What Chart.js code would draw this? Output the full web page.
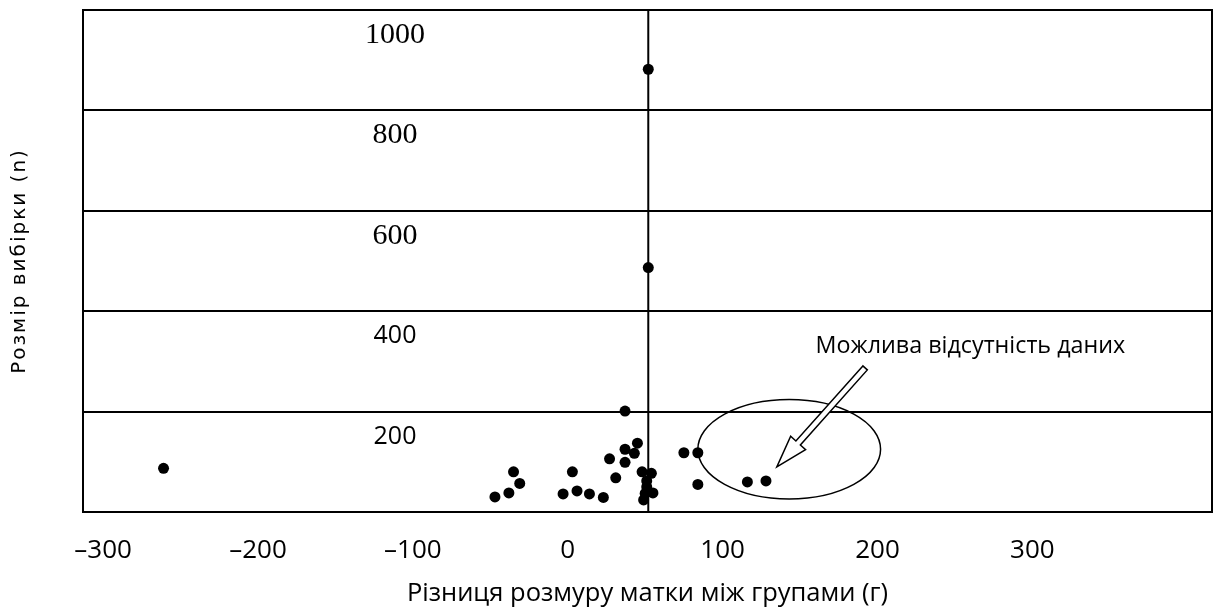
<!DOCTYPE html>
<html>
<head>
<meta charset="utf-8">
<script src="https://cdn.jsdelivr.net/npm/chart.js@4.4.1/dist/chart.umd.min.js"></script>
<style>
    html, body { margin: 0; padding: 0; background: #ffffff; }
    #chart { display: block; }
</style>
</head>
<body>
<canvas id="chart" width="1219" height="609"></canvas>
<script>
// Funnel plot: difference in uterine size vs sample size

// Study points
const sizeDiff = [-261, 52, 52, 37, 45, 37, 43, 27, 37, 75, 84, -35, 3, 48, 54, 31, -31, 84, 116, 128,
    51, 51, -38, -47, -3, 6, 14, 23, 50, 55, 49];
const sampleN = [87, 882, 487, 201, 137, 125, 117, 106, 99, 118, 118, 80, 80, 80, 77, 68, 57, 55, 60, 62,
    62, 50, 38, 30, 36, 42, 36, 29, 37, 38, 24];

// Pooled estimate (vertical line)
const pooledDiff = 52;

// Axis ticks and titles
const xTicks = [-300, -200, -100, 0, 100, 200, 300];
const yTicks = [200, 400, 600, 800, 1000];
const xTitle = 'Різниця розмуру матки між групами (г)';
const yTitle = 'Розмір вибірки (n)';

// Annotation (in data units)
const noteText = 'Можлива відсутність даних';
const noteTextAt = [260, 329];
const noteEllipse = [143, 125, 59, 99];   // cx, cy, rx, ry
const noteArrow = [192, 287, 135, 90];    // from x, y -> to x, y

const points = sizeDiff.map((d, i) => ({ x: d, y: sampleN[i] }));

// Frame round the plot area
const framePlugin = {
    id: 'frame',
    afterDraw(chart) {
        const { ctx, chartArea: a } = chart;
        ctx.save();
        ctx.strokeStyle = '#000';
        ctx.lineWidth = 2;
        ctx.strokeRect(a.left, a.top, a.right - a.left, a.bottom - a.top);
        ctx.restore();
    }
};

// Y axis title, letter-spaced like the original
const yTitlePlugin = {
    id: 'yTitle',
    afterDraw(chart) {
        const { ctx, chartArea: a } = chart;
        ctx.save();
        ctx.translate(20, (a.top + a.bottom) / 2);
        ctx.rotate(-Math.PI / 2);
        ctx.font = "20px 'DejaVu Sans', sans-serif";
        if ('letterSpacing' in ctx) ctx.letterSpacing = '2px';
        ctx.fillStyle = '#000';
        ctx.textAlign = 'center';
        ctx.textBaseline = 'middle';
        ctx.fillText(yTitle, 0, 0);
        ctx.restore();
    }
};

// Ellipse, arrow and note text
const notePlugin = {
    id: 'note',
    afterDatasetsDraw(chart) {
        const { ctx, scales: { x, y } } = chart;
        ctx.save();

        // ellipse
        const cx = x.getPixelForValue(noteEllipse[0]);
        const cy = y.getPixelForValue(noteEllipse[1]);
        const rx = x.getPixelForValue(noteEllipse[0] + noteEllipse[2]) - cx;
        const ry = cy - y.getPixelForValue(noteEllipse[1] + noteEllipse[3]);
        ctx.beginPath();
        ctx.ellipse(cx, cy, rx, ry, 0, 0, Math.PI * 2);
        ctx.strokeStyle = '#000';
        ctx.lineWidth = 1.5;
        ctx.stroke();

        // hollow block arrow
        const tx = x.getPixelForValue(noteArrow[0]), ty = y.getPixelForValue(noteArrow[1]);
        const px = x.getPixelForValue(noteArrow[2]), py = y.getPixelForValue(noteArrow[3]);
        const len = Math.hypot(px - tx, py - ty);
        const dx = (px - tx) / len, dy = (py - ty) / len;
        const nx = -dy, ny = dx;
        const w = 3, h = 10, L = 32;
        const bx = px - dx * L, by = py - dy * L;
        ctx.beginPath();
        ctx.moveTo(tx + nx * w, ty + ny * w);
        ctx.lineTo(bx + nx * w, by + ny * w);
        ctx.lineTo(bx + nx * h, by + ny * h);
        ctx.lineTo(px, py);
        ctx.lineTo(bx - nx * h, by - ny * h);
        ctx.lineTo(bx - nx * w, by - ny * w);
        ctx.lineTo(tx - nx * w, ty - ny * w);
        ctx.closePath();
        ctx.fillStyle = '#fff';
        ctx.fill();
        ctx.stroke();

        // text
        ctx.fillStyle = '#000';
        ctx.font = "23.3px 'Open Sans', sans-serif";
        ctx.textAlign = 'center';
        ctx.textBaseline = 'middle';
        ctx.fillText(noteText, x.getPixelForValue(noteTextAt[0]), y.getPixelForValue(noteTextAt[1]));
        ctx.restore();
    }
};

new Chart(document.getElementById('chart'), {
    type: 'scatter',
    data: {
        datasets: [{
            type: 'line',
            data: [{ x: pooledDiff, y: 0 }, { x: pooledDiff, y: 1000 }],
            borderColor: '#000',
            borderWidth: 2,
            pointRadius: 0
        }, {
            data: points,
            backgroundColor: '#000',
            borderColor: '#000',
            borderWidth: 0,
            pointRadius: 5.5
        }]
    },
    options: {
        responsive: false,
        devicePixelRatio: 1,
        animation: false,
        layout: { padding: { top: 10, right: 7, left: 0, bottom: 0 } },
        plugins: {
            legend: { display: false },
            tooltip: { enabled: false }
        },
        scales: {
            x: {
                type: 'linear',
                min: -313,
                max: 416,
                afterBuildTicks: (axis) => { axis.ticks = xTicks.map(v => ({ value: v })); },
                afterFit: (axis) => {
                    axis.height = 97;
                    axis.paddingLeft = 0;
                    axis.paddingRight = 0;
                },
                grid: { display: false, drawTicks: false },
                border: { display: true, color: '#000', width: 2 },
                ticks: {
                    color: '#000',
                    padding: 23,
                    maxRotation: 0,
                    font: { family: "'Open Sans', sans-serif", size: 26 },
                    callback: (v) => v < 0 ? '\u2013' + Math.abs(v) : String(v)
                },
                title: {
                    display: true,
                    text: xTitle,
                    color: '#000',
                    font: { family: "'Open Sans', sans-serif", size: 25.5 },
                    padding: { top: 0, bottom: 0 }
                }
            },
            y: {
                type: 'linear',
                min: 0,
                max: 1000,
                afterBuildTicks: (axis) => { axis.ticks = yTicks.map(v => ({ value: v })); },
                afterFit: (axis) => {
                    axis.width = 83;
                    axis.paddingTop = 0;
                    axis.paddingBottom = 0;
                },
                grid: { color: '#000', lineWidth: 2, drawTicks: false },
                border: { display: true, color: '#000', width: 2 },
                ticks: {
                    color: '#000',
                    mirror: true,
                    crossAlign: 'center',
                    padding: 282,
                    labelOffset: 25,
                    callback: (v) => String(v),
                    font: (ctx) => (ctx.index >= 2)
                        ? { family: "'Liberation Serif', serif", size: 30 }
                        : { family: "'Open Sans', sans-serif", size: 25 }
                },
                title: { display: false }
            }
        }
    },
    plugins: [framePlugin, yTitlePlugin, notePlugin]
});
</script>
</body>
</html>
